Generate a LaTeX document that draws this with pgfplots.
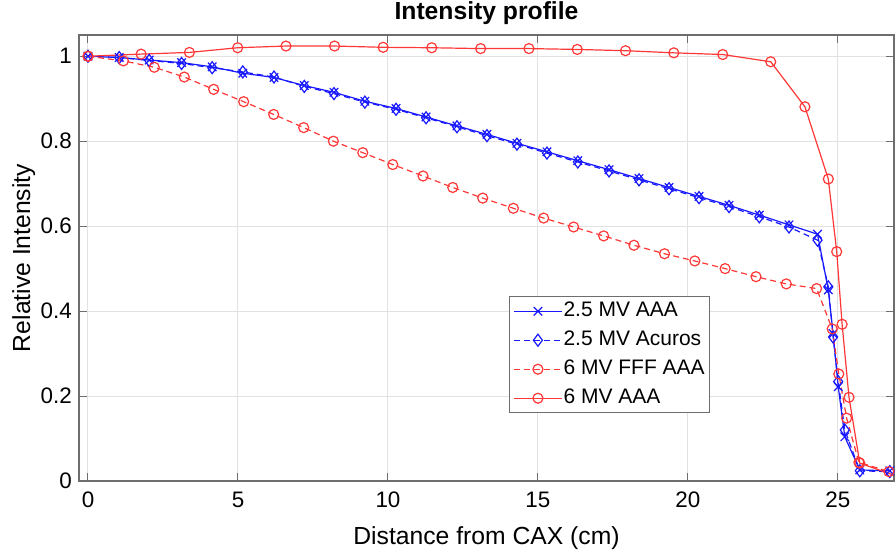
\documentclass[border=0pt]{standalone}
\usepackage{fontspec}
\setmainfont{Liberation Sans}
\usepackage{pgfplots}
\pgfplotsset{compat=1.18}

\definecolor{mblue}{RGB}{25,25,255}
\definecolor{mred}{RGB}{255,55,55}
\definecolor{axgray}{RGB}{110,110,110}
\definecolor{gridgray}{RGB}{226,226,226}

\begin{document}
\begin{tikzpicture}
\path[use as bounding box] (-79pt,-71pt) rectangle (816pt,481pt);
\begin{axis}[
    scale only axis,
    width=815pt, height=446pt,
    at={(0pt,0pt)}, anchor=south west,
    xmin=-0.3, xmax=26.87,
    ymin=0, ymax=1.05,
    xtick={0,5,10,15,20,25},
    ytick={0,0.2,0.4,0.6,0.8,1},
    /pgf/number format/assume math mode=true,
    tick label style={font=\fontsize{22.4}{26}\selectfont, inner sep=0pt},
    xticklabel style={yshift=-11pt},
    yticklabel style={xshift=-7pt},
    major tick length=8pt,
    tick style={axgray, line width=1pt},
    axis line style={axgray, line width=1.3pt},
    grid=major,
    major grid style={gridgray, line width=1pt},
    title={Intensity profile},
    title style={font=\bfseries\fontsize{24.7}{28}\selectfont,
        at={(axis description cs:0.5,1)}, anchor=base, yshift=9pt},
    xlabel={Distance from CAX (cm)},
    xlabel style={font=\fontsize{24.7}{28}\selectfont,
        at={(axis description cs:0.5,0)}, anchor=base, yshift=-63pt},
    ylabel={Relative Intensity},
    ylabel style={font=\fontsize{24.7}{28}\selectfont,
        at={(axis description cs:-0.0601,0.5)}, anchor=base},
    every axis plot/.append style={line width=1.2pt},
    legend image code/.code={
        \draw[mark repeat=2,mark phase=2,#1]
        plot coordinates {(0pt,0pt) (24pt,0pt) (48pt,0pt)};},
    legend cell align=left,
    legend style={at={(axis cs:14.03,0.435)}, anchor=north west,
        font=\fontsize{21}{24}\selectfont, draw=axgray, line width=1pt,
        fill=white, inner xsep=4pt, inner ysep=4pt, row sep=8pt,
        nodes={inner sep=1pt, text height=15pt, text depth=4pt}},
]
% 2.5 MV AAA
\addplot[mblue, solid, mark=x, mark size=6pt, mark options={solid}] coordinates {
(0,1.000) (1.04,0.997) (2.04,0.991) (3.12,0.985) (4.14,0.975)
(5.16,0.960) (6.20,0.950) (7.21,0.931) (8.20,0.915) (9.23,0.894)
(10.27,0.877) (11.27,0.857) (12.30,0.836) (13.30,0.816) (14.30,0.795)
(15.30,0.775) (16.33,0.754) (17.37,0.733) (18.37,0.712) (19.37,0.691)
(20.37,0.670) (21.37,0.649) (22.38,0.626) (23.37,0.603) (24.32,0.581)
(24.68,0.450) (24.84,0.347) (25.01,0.222) (25.23,0.104) (25.73,0.026)
(26.73,0.024)
};
\addlegendentry{2.5 MV AAA}
% 2.5 MV Acuros
\addplot[mblue, dash pattern=on 6pt off 4pt, mark=diamond, mark size=6pt,
    mark options={solid}] coordinates {
(0,1.000) (1.04,0.997) (2.04,0.990) (3.12,0.983) (4.14,0.973)
(5.16,0.963) (6.20,0.951) (7.21,0.929) (8.20,0.912) (9.23,0.892)
(10.27,0.875) (11.27,0.855) (12.30,0.834) (13.30,0.813) (14.30,0.793)
(15.30,0.772) (16.33,0.751) (17.37,0.730) (18.37,0.709) (19.37,0.688)
(20.37,0.667) (21.37,0.646) (22.38,0.622) (23.37,0.598) (24.32,0.567)
(24.68,0.457) (24.84,0.339) (25.01,0.234) (25.23,0.120) (25.73,0.024)
(26.73,0.022)
};
\addlegendentry{2.5 MV Acuros}
% 6 MV FFF AAA
\addplot[mred, dash pattern=on 6pt off 4pt, mark=o, mark size=5pt,
    mark options={solid}] coordinates {
(0,1.000) (1.18,0.989) (2.21,0.974) (3.21,0.951) (4.19,0.922)
(5.19,0.893) (6.19,0.863) (7.19,0.832) (8.18,0.800) (9.16,0.773)
(10.16,0.745) (11.17,0.718) (12.16,0.691) (13.16,0.666) (14.18,0.642)
(15.19,0.619) (16.19,0.598) (17.19,0.577) (18.20,0.555) (19.22,0.535)
(20.23,0.518) (21.24,0.500) (22.27,0.481) (23.28,0.464) (24.29,0.453)
(24.81,0.358) (25.03,0.252) (25.29,0.148) (25.70,0.044) (26.70,0.022)
};
\addlegendentry{6 MV FFF AAA}
% 6 MV AAA
\addplot[mred, solid, mark=o, mark size=5pt, mark options={solid}] coordinates {
(0,1.000) (1.77,1.005) (3.38,1.009) (4.99,1.020) (6.60,1.024)
(8.22,1.024) (9.84,1.021) (11.46,1.020) (13.09,1.018) (14.70,1.018)
(16.31,1.016) (17.92,1.013) (19.53,1.008) (21.16,1.004) (22.76,0.987)
(23.90,0.881) (24.68,0.711) (24.96,0.540) (25.14,0.369) (25.37,0.197)
(25.73,0.042) (27.30,0.003)
};
\addlegendentry{6 MV AAA}
\end{axis}
\end{tikzpicture}
\end{document}
